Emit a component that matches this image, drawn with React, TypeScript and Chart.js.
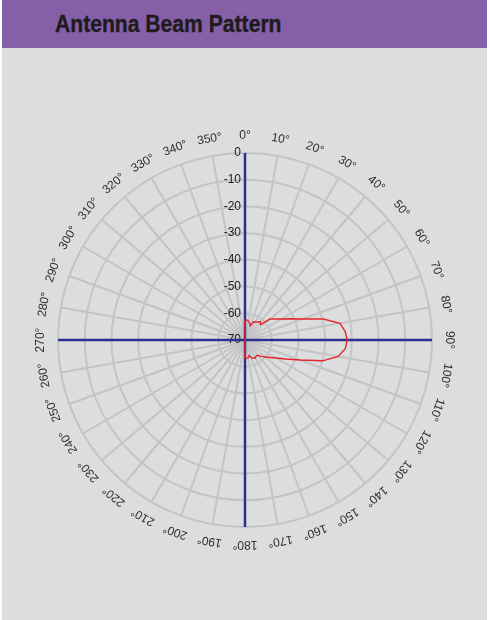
import React, { useEffect, useRef } from "react";
import { Chart, registerables } from "chart.js";

Chart.register(...registerables);

// Angle categories (degrees, clockwise from top)
const angles = [
  0, 5, 10, 15, 20, 25, 30, 35, 40, 45, 50, 55, 60, 65, 70, 75, 80, 85,
  90, 95, 100, 105, 110, 115, 120, 125, 130, 135, 140, 145, 150, 155, 160, 165, 170, 175,
  180, 185, 190, 195, 200, 205, 210, 215, 220, 225, 230, 235, 240, 245, 250, 255, 260, 265,
  270, 275, 280, 285, 290, 295, 300, 305, 310, 315, 320, 325, 330, 335, 340, 345, 350, 355,
];

// Measured gain (dB) at each angle
const gainDb = [
  -62.5, -62.5, -62.8, -63.4, -64.3, -62.5, -62.2, -61.8, -61.0, -61.8, -57.8, -56.3, -54.3, -51.2, -47.0, -39.6, -33.9, -32.4,
  -31.7, -32.3, -34.6, -39.9, -48.1, -53.2, -56.5, -58.6, -60.1, -61.3, -62.5, -62.7, -62.2, -62.6, -62.8, -64.0, -63.2, -63.2,
  -63.3, -70, -70, -70, -70, -70, -70, -70, -70, -70, -70, -70, -70, -70, -70, -70, -70, -70,
  -70, -70, -70, -70, -70, -70, -70, -70, -70, -70, -70, -70, -70, -70, -70, -70, -70, -70,
];

// Angle tick labels (degrees)
const angleTicks = [
  0, 10, 20, 30, 40, 50, 60, 70, 80, 90, 100, 110, 120, 130, 140, 150, 160, 170,
  180, 190, 200, 210, 220, 230, 240, 250, 260, 270, 280, 290, 300, 310, 320, 330, 340, 350,
];

// Radial tick labels (dB)
const radialTicks = [0, -10, -20, -30, -40, -50, -60, -70];

const overlayPlugin = {
  id: "overlay",
  beforeDatasetsDraw(chart: any) {
    const s = chart.scales.r;
    const ctx = chart.ctx;
    const cx = s.xCenter;
    const cy = s.yCenter;
    const R = s.drawingArea;
    ctx.save();

    // radial tick labels
    ctx.font = "12px 'Liberation Sans', Arial, sans-serif";
    ctx.fillStyle = "#1c1c1c";
    ctx.textAlign = "right";
    ctx.textBaseline = "middle";
    radialTicks.forEach((v) => {
      const d = s.getDistanceFromCenterForValue(v);
      ctx.fillText(String(v), cx - 4, cy - d);
    });

    // angle labels, rotated tangentially
    ctx.fillStyle = "#2e2e2e";
    ctx.textAlign = "center";
    ctx.textBaseline = "middle";
    angleTicks.forEach((deg) => {
      const idx = angles.indexOf(deg);
      if (idx < 0) return;
      const p = s.getPointPosition(idx, R + 17);
      const a = s.getIndexAngle(idx);
      ctx.save();
      ctx.translate(p.x, p.y);
      ctx.rotate(a);
      ctx.fillText(deg + "°", 0, 0);
      ctx.restore();
    });

    // blue cross axes
    ctx.strokeStyle = "#2c2f8e";
    ctx.lineWidth = 2.5;
    ctx.beginPath();
    ctx.moveTo(cx - R, cy);
    ctx.lineTo(cx + R, cy);
    ctx.moveTo(cx, cy - R);
    ctx.lineTo(cx, cy + R);
    ctx.stroke();
    ctx.restore();
  },
};

export default function App() {
  const canvasRef = useRef<HTMLCanvasElement | null>(null);

  useEffect(() => {
    const prevMargin = document.body.style.margin;
    document.body.style.margin = "0";
    const canvas = canvasRef.current;
    if (!canvas) return;
    const chart = new Chart(canvas, {
      type: "radar",
      data: {
        labels: angles.map((a) => String(a)),
        datasets: [
          {
            data: gainDb,
            borderColor: "#e3242b",
            borderWidth: 1.4,
            backgroundColor: "transparent",
            fill: false,
            pointRadius: 0,
            pointHoverRadius: 0,
            tension: 0,
          },
        ],
      },
      options: {
        responsive: false,
        animation: false,
        devicePixelRatio: 1,
        layout: { padding: 58 },
        plugins: {
          legend: { display: false },
          tooltip: { enabled: false },
        },
        scales: {
          r: {
            min: -70,
            max: 0,
            startAngle: 0,
            ticks: { stepSize: 10, display: false },
            grid: { circular: true, color: "#c3c4c6", lineWidth: 2 },
            angleLines: {
              display: true,
              color: "#c3c4c6",
              lineWidth: (c: any) => (angles[c.index] % 10 === 0 ? 2 : 0),
            },
            pointLabels: { display: false },
          },
        },
      },
      plugins: [overlayPlugin],
    } as any);
    return () => {
      chart.destroy();
      document.body.style.margin = prevMargin;
    };
  }, []);

  return (
    <div
      style={{
        position: "fixed",
        left: 0,
        top: 0,
        width: 490,
        height: 620,
        background: "#ffffff",
        overflow: "hidden",
      }}
    >
      <div
        style={{
          position: "absolute",
          left: 2,
          top: 0,
          width: 485,
          height: 620,
          background: "#dcdddf",
        }}
      />
      <div
        style={{
          position: "absolute",
          left: 2,
          top: 0,
          width: 485,
          height: 48,
          background: "#8560a8",
        }}
      />
      <div
        style={{
          position: "absolute",
          left: 55,
          top: 10,
          fontFamily: "'Liberation Sans', Arial, sans-serif",
          fontWeight: 900,
          fontSize: 24,
          lineHeight: "28px",
          color: "#1f1b1c",
          whiteSpace: "nowrap",
          transform: "scaleX(0.88)",
          transformOrigin: "left center",
          WebkitTextStroke: "0.4px #1f1b1c",
        }}
      >
        Antenna Beam Pattern
      </div>
      <canvas
        ref={canvasRef}
        width={490}
        height={490}
        style={{ position: "absolute", left: 0, top: 95, width: 490, height: 490 }}
      />
    </div>
  );
}
